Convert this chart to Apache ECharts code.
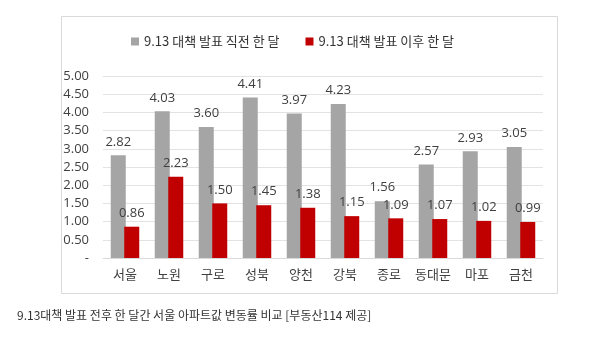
<!DOCTYPE html>
<html><head><meta charset="utf-8">
<script src="https://cdn.jsdelivr.net/npm/echarts@6/dist/echarts.min.js"></script>
<style>html,body{margin:0;padding:0;background:#fff}#c{width:595px;height:357px}</style>
</head><body><div id="c"></div>
<script>
const categories = ['서울','노원','구로','성북','양천','강북','종로','동대문','마포','금천'];
const before = [2.82,4.03,3.60,4.41,3.97,4.23,1.56,2.57,2.93,3.05];
const after = [0.86,2.23,1.50,1.45,1.38,1.15,1.09,1.07,1.02,0.99];
const seriesNames = ['9.13 대책 발표 직전 한 달','9.13 대책 발표 이후 한 달'];
const caption = '9.13대책 발표 전후 한 달간 서울 아파트값 변동률 비교 [부동산114 제공]';

const font = '"Noto Sans CJK KR", "Noto Sans", sans-serif';
const chart = echarts.init(document.getElementById('c'), null, {renderer:'canvas'});
chart.setOption({
  animation:false,
  textStyle:{fontFamily:font},
  graphic:[
    {type:'rect', shape:{x:61.5,y:16.5,width:496,height:277}, style:{fill:'none',stroke:'#d9d9d9',lineWidth:1}, z:-1},
    {type:'text', left:17, top:309, style:{text:caption, fill:'#333', font:'12px '+font}}
  ],
  legend:{
    left:126, top:30, itemWidth:8, itemHeight:8, itemGap:26, icon:'rect',
    textStyle:{fontSize:13,color:'#333',fontFamily:font},
    data:seriesNames
  },
  grid:{left:103, right:52, top:76, bottom:99},
  xAxis:{
    type:'category', data:categories,
    axisLine:{lineStyle:{color:'#d9d9d9'}},
    axisTick:{show:false},
    axisLabel:{color:'#404040',fontSize:13,margin:10,interval:0,fontFamily:font}
  },
  yAxis:{
    type:'value', min:0, max:5, interval:0.5,
    axisLine:{show:false}, axisTick:{show:false},
    splitLine:{lineStyle:{color:'#e3e3e3'}},
    axisLabel:{color:'#404040',fontSize:13,margin:14,fontFamily:'"Open Sans", sans-serif',
      formatter:v=> v===0 ? '-' : v.toFixed(2)}
  },
  series:[
    {name:seriesNames[0], type:'bar', data:before, barWidth:15, barGap:'-10%',
     itemStyle:{color:'#a5a5a5'},
     label:{show:true,position:'top',distance:7,color:'#404040',fontSize:13,fontFamily:'"Open Sans", sans-serif',formatter:p=>p.value.toFixed(2)}},
    {name:seriesNames[1], type:'bar', data:after, barWidth:15,
     itemStyle:{color:'#c00000'},
     label:{show:true,position:'top',distance:7,color:'#404040',fontSize:13,fontFamily:'"Open Sans", sans-serif',formatter:p=>p.value.toFixed(2)}}
  ]
});
</script></body></html>
